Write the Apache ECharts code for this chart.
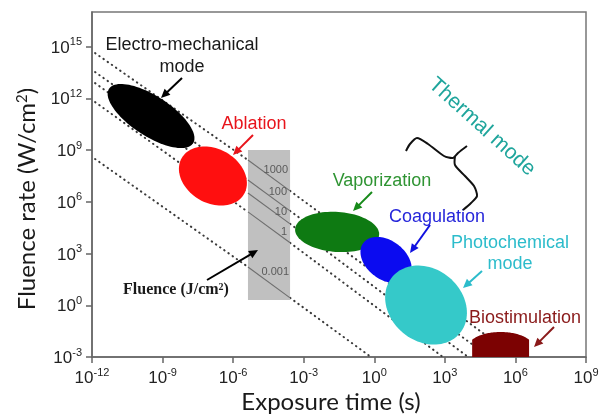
<!DOCTYPE html>
<html>
<head>
<meta charset="utf-8">
<script src="https://cdn.jsdelivr.net/npm/echarts@6/dist/echarts.min.js"></script>
<style>
html,body{margin:0;padding:0;background:#fff;}
#chart{width:612px;height:417px;}
</style>
</head>
<body>
<div id="chart"></div>
<script>
// Axes are in decades: log10 exposure time (s) and log10 fluence rate (W/cm2)
const xTickExps = [-12, -9, -6, -3, 0, 3, 6, 9];
const yTickExps = [-3, 0, 3, 6, 9, 12, 15];

// Constant-fluence guides (J/cm2): dotted outside the grey band, solid inside it
const fluenceLabels = ['1000', '100', '10', '1', '0.001'];
const fluenceStart  = [[-11.87, 14.62], [-11.87, 13.52], [-11.87, 12.88], [-11.87, 11.78], [-11.87, 8.48]];
const fluenceBandIn = [[-5.37, 8.42], [-5.37, 7.26], [-5.37, 6.51], [-5.37, 5.41], [-5.37, 2.22]];
const fluenceBandOut = [[-3.58, 6.63], [-3.58, 5.47], [-3.58, 4.72], [-3.58, 3.62], [-3.58, 0.43]];
const fluenceEnd    = [[6.0, -3], [4.9, -3], [3.99, -3], [2.92, -3], [-0.14, -3]];

// Grey fluence band: exposure-time range and fluence-rate range
const bandTime = [-5.37, -3.58];
const bandRate = [0.30, 9.0];

// Interaction regimes: centre and semi-axes (decades)
const regimeNames  = ['Electro-mechanical mode', 'Ablation', 'Vaporization', 'Coagulation', 'Photochemical mode'];
const regimeCenter = [[-9.49, 10.97], [-6.86, 7.49], [-1.58, 4.25], [0.50, 2.62], [2.20, 0.01]];
const regimeSemi   = [[2.13, 1.16], [1.53, 1.57], [1.79, 1.16], [1.21, 1.13], [1.87, 2.09]];

// Biostimulation: time range, shoulder and top of the fluence-rate range
const bioTime = [4.16, 6.58];
const bioShoulder = -2.0;
const bioTop = -1.55;

const regimeTilt = [33, 30, 4, 37, 40];
const regimeFill = ['#000000', '#ff0f0f', '#0e7a12', '#0b0bf0', '#35c9c9'];

const chart = echarts.init(document.getElementById('chart'));

const supRich = {
  b: { fontSize: 17, fontFamily: 'Liberation Sans', color: '#222', lineHeight: 20, verticalAlign: 'bottom' },
  s: { fontSize: 11, fontFamily: 'Liberation Sans', color: '#222', lineHeight: 20, verticalAlign: 'bottom', padding: [0, 0, 9, 0] }
};
const powLabel = v => '{b|10}{s|' + v + '}';

const dotted = { color: '#3a3a3a', width: 2, type: [0.5, 4.6], cap: 'round' };

const series = [];
fluenceLabels.forEach((f, i) => {
  series.push({ type: 'line', name: f + ' J/cm2', data: [fluenceStart[i], fluenceBandIn[i]], symbol: 'none', silent: true, lineStyle: dotted, z: 1 });
  series.push({ type: 'line', name: f + ' J/cm2 ', data: [fluenceBandOut[i], fluenceEnd[i]], symbol: 'none', silent: true, lineStyle: dotted, z: 1 });
});

series.push({
  type: 'custom', name: 'band', silent: true, z: 2,
  data: [[bandTime[0], bandRate[1], bandTime[1], bandRate[0]]],
  renderItem: (params, api) => {
    const p0 = api.coord([api.value(0), api.value(1)]);
    const p1 = api.coord([api.value(2), api.value(3)]);
    return { type: 'rect', shape: { x: p0[0], y: p0[1], width: p1[0] - p0[0], height: p1[1] - p0[1] }, style: { fill: '#c0c0c0' } };
  }
});

fluenceLabels.forEach((f, i) => {
  series.push({ type: 'line', name: f + ' band', data: [fluenceBandIn[i], fluenceBandOut[i]], symbol: 'none', silent: true, lineStyle: { color: '#6e6e6e', width: 1.1 }, z: 3 });
});

series.push({
  type: 'custom', name: 'regimes', silent: true, z: 4,
  data: regimeCenter.map((c, i) => [c[0], c[1], regimeSemi[i][0], regimeSemi[i][1], i]),
  renderItem: (params, api) => {
    const c = api.coord([api.value(0), api.value(1)]);
    const rx = api.size([api.value(2), 0])[0];
    const ry = api.size([0, api.value(3)])[1];
    const k = api.value(4);
    const t = regimeTilt[k] * Math.PI / 180;
    const pts = [];
    for (let j = 0; j < 96; j++) {
      const a = j / 96 * Math.PI * 2;
      const px = rx * Math.cos(a), py = ry * Math.sin(a);
      pts.push([c[0] + px * Math.cos(t) - py * Math.sin(t), c[1] + px * Math.sin(t) + py * Math.cos(t)]);
    }
    return { type: 'polygon', shape: { points: pts }, style: { fill: regimeFill[k] } };
  }
});

series.push({
  type: 'custom', name: 'Biostimulation', silent: true, z: 4,
  data: [[bioTime[0], bioTime[1], bioShoulder, bioTop]],
  renderItem: (params, api) => {
    const x1 = api.coord([api.value(0), -3])[0];
    const x2 = api.coord([api.value(1), -3])[0];
    const yb = api.coord([api.value(0), -3])[1];
    const ys = api.coord([api.value(0), api.value(2)])[1];
    const yt = api.coord([api.value(0), api.value(3)])[1];
    const xc = (x1 + x2) / 2;
    const rx = (x2 - x1) / 2 * 1.16;
    const u = (x1 - xc) / rx;
    const kk = Math.sqrt(1 - u * u);
    const ry = (ys - yt) / (1 - kk);
    const yc = yt + ry;
    const aStart = Math.acos(u);           // left shoulder angle
    const aEnd = Math.PI - aStart;         // right shoulder angle
    const pts = [[x1, yb], [x1, ys]];
    for (let j = 0; j <= 60; j++) {
      const a = aStart + (aEnd - aStart) * j / 60;
      pts.push([xc + rx * Math.cos(a), yc - ry * Math.sin(a)]);
    }
    pts.push([x2, ys], [x2, yb]);
    return { type: 'polygon', shape: { points: pts }, style: { fill: '#7c0202' } };
  }
});

function arrow(x1, y1, x2, y2, color) {
  const a = Math.atan2(y2 - y1, x2 - x1), L = 9, W = 4.2;
  const bx = x2 - L * Math.cos(a), by = y2 - L * Math.sin(a);
  return [
    { type: 'line', z: 100, shape: { x1: x1, y1: y1, x2: bx + Math.cos(a), y2: by + Math.sin(a) }, style: { stroke: color, lineWidth: 2 } },
    { type: 'polygon', z: 100, shape: { points: [[x2, y2], [bx + W * Math.sin(a), by - W * Math.cos(a)], [bx - W * Math.sin(a), by + W * Math.cos(a)]] }, style: { fill: color } }
  ];
}

function label(text, x, y, color, size) {
  return {
    type: 'text', x: x, y: y, z: 100,
    style: { text: text, fill: color, font: size + 'px "Liberation Sans", Arial, sans-serif', align: 'center', verticalAlign: 'middle', textAlign: 'center', textVerticalAlign: 'middle' }
  };
}

const graphics = [
  label('Electro-mechanical', 182, 45, '#1a1a1a', 18),
  label('mode', 182, 67, '#1a1a1a', 18),
  label('Ablation', 254, 124, '#e8141b', 18),
  label('Vaporization', 382, 181, '#2f9433', 18),
  label('Coagulation', 437, 217, '#2626da', 18),
  label('Photochemical', 510, 243, '#2cbccb', 18),
  label('mode', 510, 264, '#2cbccb', 18),
  label('Biostimulation', 525, 318, '#8a1a1a', 18),
  Object.assign(label('Thermal mode', 482, 127, '#1fa59c', 21), { rotation: -42 * Math.PI / 180 }),
  {
    type: 'text', x: 176, y: 290, z: 100,
    style: {
      text: 'Fluence (J/cm{s|2})', fill: '#1a1a1a', font: 'bold 16px "Liberation Serif", serif',
      align: 'center', verticalAlign: 'middle', textAlign: 'center', textVerticalAlign: 'middle',
      rich: { s: { font: 'bold 10px "Liberation Serif", serif', fill: '#1a1a1a', verticalAlign: 'top', lineHeight: 15 } }
    }
  },
  {
    type: 'text', x: 331, y: 402, z: 100,
    style: { text: 'Exposure time (s)', fill: '#1a1a1a', font: '24px Lato, sans-serif', align: 'center', verticalAlign: 'middle', textAlign: 'center', textVerticalAlign: 'middle' }
  },
  {
    type: 'text', x: 27, y: 199, z: 100, rotation: Math.PI / 2,
    style: {
      text: 'Fluence rate (W/cm{s|2})', fill: '#1a1a1a', font: '24px Lato, sans-serif',
      align: 'center', verticalAlign: 'middle', textAlign: 'center', textVerticalAlign: 'middle',
      rich: { s: { font: '15px Lato, sans-serif', fill: '#1a1a1a', verticalAlign: 'top', lineHeight: 20 } }
    }
  },
  // brace grouping the thermal regimes
  {
    type: 'polyline', z: 100,
    shape: { points: [[406, 151], [410, 144], [417, 138], [428, 144], [444, 156], [453, 158], [458, 153], [467, 146]], smooth: 0.25 },
    style: { stroke: '#111', lineWidth: 2, fill: null, lineJoin: 'round' }
  },
  {
    type: 'polyline', z: 100,
    shape: { points: [[455, 156], [455, 165], [465, 176], [474, 186], [477, 196], [471, 203], [463, 210]], smooth: 0.25 },
    style: { stroke: '#111', lineWidth: 2, fill: null, lineJoin: 'round' }
  }
];
// fluence values printed inside the band
const bandLabelPos = [[288, 170], [287, 192], [287, 212], [287, 232], [289, 272]];
fluenceLabels.forEach((f, i) => {
  graphics.push({ type: 'text', x: bandLabelPos[i][0], y: bandLabelPos[i][1], z: 100,
    style: { text: f, fill: '#5a5a5a', font: '11px "Liberation Sans", Arial, sans-serif', align: 'right', verticalAlign: 'middle', textAlign: 'right', textVerticalAlign: 'middle' } });
});
[
  [182, 78, 161, 98, '#000'],
  [253, 135, 233, 155, '#e8141b'],
  [372, 192, 353, 211, '#178a1a'],
  [430, 225, 410, 253, '#1010e0'],
  [482, 271, 463, 288, '#2cbccb'],
  [554, 327, 534, 347, '#8a1a1a'],
  [207, 280, 258, 250, '#000']
].forEach(a => graphics.push(...arrow(a[0], a[1], a[2], a[3], a[4])));

chart.setOption({
  animation: false,
  backgroundColor: '#fff',
  grid: { left: 92, right: 26, top: 12, bottom: 60, show: true, borderColor: '#777', borderWidth: 1.5, backgroundColor: 'transparent' },
  xAxis: {
    type: 'value', min: -12, max: 9, interval: 3,
    axisLine: { show: true, onZero: false, lineStyle: { color: '#666', width: 1.5 } },
    axisTick: { show: true, length: 6, lineStyle: { color: '#666', width: 1.5 } },
    splitLine: { show: false },
    axisLabel: { margin: 10, formatter: powLabel, rich: supRich }
  },
  yAxis: {
    type: 'value', min: -3, max: 17, interval: 3,
    axisLine: { show: true, onZero: false, lineStyle: { color: '#666', width: 1.5 } },
    axisTick: { show: true, length: 6, lineStyle: { color: '#666', width: 1.5 }, customValues: yTickExps },
    splitLine: { show: false },
    axisLabel: { margin: 10, formatter: powLabel, rich: supRich, customValues: yTickExps }
  },
  series: series,
  graphic: { elements: graphics }
});
</script>
</body>
</html>
